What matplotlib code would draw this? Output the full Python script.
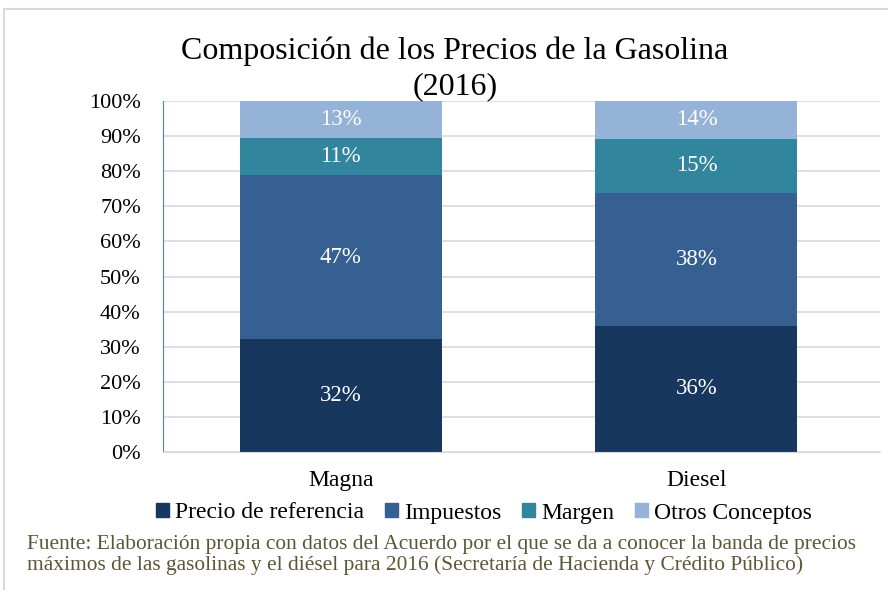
import matplotlib
matplotlib.use('Agg')
import matplotlib.pyplot as plt
from matplotlib.patches import Rectangle, Patch

plt.rcParams['font.family'] = ['Liberation Serif', 'DejaVu Serif']

categories = ['Magna', 'Diesel']
series = ['Precio de referencia', 'Impuestos', 'Margen', 'Otros Conceptos']
# segment heights as drawn (fraction of 100%)
precio = [32.2, 35.9]
impuestos = [46.7, 37.9]
margen = [10.5, 15.4]
otros = [10.6, 10.8]
# printed labels
labels = [['32%', '36%'], ['47%', '38%'], ['11%', '15%'], ['13%', '14%']]
colors = ['#17375e', '#376092', '#31859c', '#95b3d7']

fig = plt.figure(figsize=(8.88, 5.9), dpi=100)
fig.patches.append(Rectangle((4 / 888, -0.1), 1.2, 1 - 9 / 590 + 0.1,
                             transform=fig.transFigure, fill=False,
                             edgecolor='#d9d9d9', linewidth=1.5))
ax = fig.add_axes([163 / 888, 1 - 452 / 590, (880 - 163) / 888, 351 / 590])

x = list(range(len(categories)))
bottom = [0.0] * len(categories)
for vals, lab, col, name in zip([precio, impuestos, margen, otros], labels, colors, series):
    ax.bar(x, vals, 0.568, bottom=bottom, color=col, label=name, zorder=2)
    for i in x:
        ax.text(i, bottom[i] + vals[i] / 2, lab[i], ha='center', va='center',
                color='white', fontsize=16.5, zorder=3)
    bottom = [b + v for b, v in zip(bottom, vals)]

ax.set_xlim(-0.5, 1.516)
ax.set_ylim(0, 100)
ax.set_yticks(range(0, 101, 10))
ax.set_yticklabels([f'{v}%' for v in range(0, 101, 10)], fontsize=16)
ax.set_xticks(x)
ax.set_xticklabels(categories, fontsize=17)
ax.tick_params(axis='y', length=0, pad=16)
ax.tick_params(axis='x', length=0, pad=13)
ax.grid(axis='y', color='#d9d9d9', linewidth=1.2, zorder=0)
for s in ['top', 'right']:
    ax.spines[s].set_visible(False)
ax.spines['left'].set_color('#4f81bd')
ax.spines['bottom'].set_color('#d9d9d9')
ax.set_axisbelow(True)

fig.text(455 / 888, 1 - 69 / 590, 'Composición de los Precios de la Gasolina\n(2016)',
         ha='center', va='center', fontsize=23, linespacing=1.25)

handles = [Patch(color=c) for c in colors]
fig.legend(handles, series, loc='center', bbox_to_anchor=(484 / 888, 1 - 513 / 590),
           ncol=4, frameon=False, fontsize=17, handlelength=0.55, handleheight=0.55,
           handletextpad=0.25, columnspacing=0.9)

fig.text(27 / 888, 1 - 555 / 590,
         'Fuente: Elaboración propia con datos del Acuerdo por el que se da a conocer la banda de precios\n'
         'máximos de las gasolinas y el diésel para 2016 (Secretaría de Hacienda y Crédito Público)',
         ha='left', va='center', fontsize=15.4, color='#5c5637', linespacing=1.15)

fig.savefig('out.png', dpi=100)
